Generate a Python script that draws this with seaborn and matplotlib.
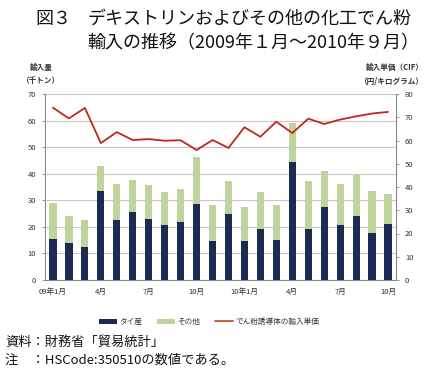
import numpy as np
import pandas as pd
import matplotlib
matplotlib.use("Agg")
import matplotlib.pyplot as plt
import seaborn as sns
from matplotlib.patches import Patch
from matplotlib.lines import Line2D

# Monthly data, Jan 2009 - Oct 2010
months = ["09年1月", "", "", "4月", "", "", "7月", "", "", "10月", "", "",
          "10年1月", "", "", "4月", "", "", "7月", "", "", "10月"]
thai = [15.3, 13.9, 12.4, 33.5, 22.6, 25.5, 23.0, 20.7, 21.7, 28.6, 14.6,
        25.0, 14.7, 19.1, 14.9, 44.5, 19.2, 27.6, 20.7, 24.2, 17.6, 20.9]
total = [29.1, 24.2, 22.6, 43.0, 36.1, 37.7, 35.9, 33.3, 34.4, 46.2, 28.1,
         37.3, 27.3, 33.3, 28.1, 58.9, 37.1, 41.0, 36.1, 40.0, 33.5, 32.4]
price = [74.1, 69.5, 74.0, 58.9, 63.6, 60.2, 60.6, 59.9, 60.1, 55.9, 60.2,
         56.8, 65.7, 61.6, 68.1, 63.2, 69.4, 67.1, 69.0, 70.4, 71.6, 72.3]

df = pd.DataFrame({"m": [f"m{i}" for i in range(len(thai))],
                   "thai": thai, "total": total, "price": price})

navy = "#1b2a52"
green = "#c0d39c"
red = "#c0281c"
tick_col = "#333333"

sns.set_theme(style="white")
plt.rcParams["font.family"] = ["Noto Sans CJK JP", "DejaVu Sans"]

fig = plt.figure(figsize=(4.4, 3.81), dpi=100)
ax = fig.add_axes([45 / 440, 1 - 280 / 381, (396 - 45) / 440, (280 - 94) / 381])

# stacked bars: total (green) behind, Thai (navy) in front
sns.barplot(data=df, x="m", y="total", color=green, width=0.45, ax=ax,
            saturation=1, linewidth=0, zorder=2)
sns.barplot(data=df, x="m", y="thai", color=navy, width=0.45, ax=ax,
            saturation=1, linewidth=0, zorder=3)

ax.set_xlim(-0.5, len(thai) - 0.5)
ax.set_ylim(0, 70)
ax.set_yticks(np.arange(0, 71, 10))
ax.yaxis.grid(True, color="#c8c8c8", linewidth=0.8, zorder=0)
ax.set_axisbelow(True)
ax.set_xticks(np.arange(len(thai)))
ax.set_xticklabels(months)
ax.set_xticks(np.arange(-0.5, len(thai), 1), minor=True)
ax.tick_params(axis="x", which="major", length=0, labelsize=5.5,
               labelcolor=tick_col, pad=6)
ax.tick_params(axis="x", which="minor", length=2.5, color="#888888",
               direction="out", width=0.6)
ax.tick_params(axis="y", length=2.5, color="#888888", labelsize=5.5,
               labelcolor=tick_col, left=True, pad=4, width=0.6)
ax.set_xlabel("")
ax.set_ylabel("")
for s in ["left", "bottom"]:
    ax.spines[s].set_color("#888888")
    ax.spines[s].set_linewidth(0.8)
ax.spines["top"].set_visible(False)
ax.spines["right"].set_visible(False)

# price line on right axis
ax2 = ax.twinx()
sns.lineplot(x=np.arange(len(price)), y=price, ax=ax2, color=red,
             linewidth=1.3, zorder=4)
ax2.set_ylim(0, 80)
ax2.set_yticks(np.arange(0, 81, 10))
ax2.tick_params(axis="y", length=2.5, color="#888888", labelsize=5.5,
                labelcolor=tick_col, right=True, pad=4, width=0.6)
ax2.spines["right"].set_color("#888888")
ax2.spines["right"].set_linewidth(0.8)
for s in ["top", "left", "bottom"]:
    ax2.spines[s].set_visible(False)
ax2.set_ylabel("")

# axis titles
fig.text(41 / 440, 1 - 67 / 381, "輸入量", fontsize=5.5, fontweight="bold",
         color=tick_col, ha="center", va="center")
fig.text(41 / 440, 1 - 81 / 381, "（千トン）", fontsize=5.5, fontweight="bold",
         color=tick_col, ha="center", va="center")
fig.text(424 / 440, 1 - 67 / 381, "輸入単価（CIF）", fontsize=5.5, fontweight="bold",
         color=tick_col, ha="right", va="center")
fig.text(424 / 440, 1 - 81 / 381, "（円/キログラム）", fontsize=5.5, fontweight="bold",
         color=tick_col, ha="right", va="center")

# title
fig.text(35 / 440, 1 - 19 / 381, "図３", fontsize=13, ha="left", va="center",
         color="#111111")
fig.text(87 / 440, 1 - 19 / 381, "デキストリンおよびその他の化工でん粉",
         fontsize=13, ha="left", va="center", color="#111111")
fig.text(87 / 440, 1 - 43 / 381, "輸入の推移（2009年１月～2010年９月）",
         fontsize=13, ha="left", va="center", color="#111111")

# legend
handles = [Patch(facecolor=navy, edgecolor="none"),
           Patch(facecolor=green, edgecolor="none"),
           Line2D([0], [0], color="#cc4a30", linewidth=1.3)]
labels = ["タイ産", "その他", "でん粉誘導体の輸入単価"]
fig.legend(handles, labels, loc="center", bbox_to_anchor=(209 / 440, 1 - 322 / 381),
           ncol=3, frameon=False, fontsize=5.5, handlelength=2.4,
           handleheight=0.6, handletextpad=0.2, columnspacing=2.0,
           labelcolor=tick_col)

# notes
fig.text(5 / 440, 1 - 342 / 381, "資料：財務省「貿易統計」", fontsize=9.5,
         ha="left", va="center", color="#111111")
fig.text(5 / 440, 1 - 360 / 381, "注　：HSCode:350510の数値である。", fontsize=9.5,
         ha="left", va="center", color="#111111")

fig.savefig("out.png", dpi=100)
